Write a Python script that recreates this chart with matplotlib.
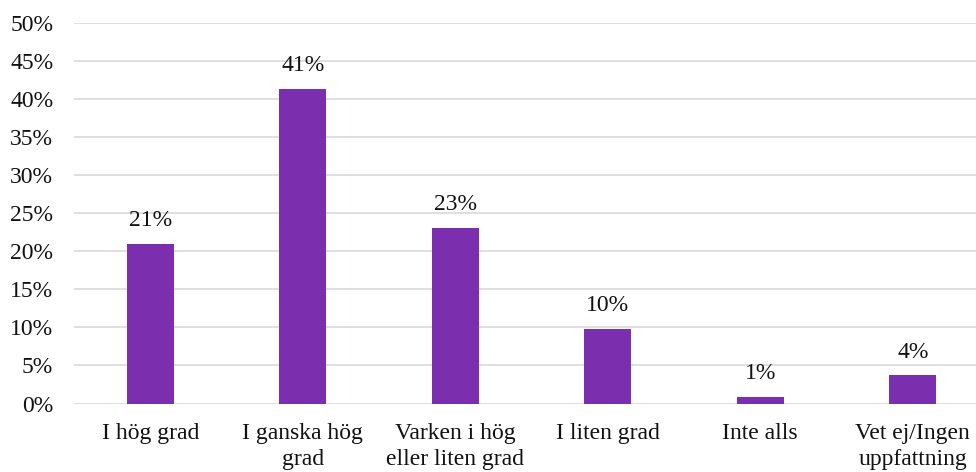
import matplotlib
matplotlib.use("Agg")
import matplotlib.pyplot as plt
from matplotlib.ticker import FuncFormatter

categories = ["I hög grad", "I ganska hög\ngrad", "Varken i hög\neller liten grad",
              "I liten grad", "Inte alls", "Vet ej/Ingen\nuppfattning"]
values = [21.0, 41.3, 23.1, 9.8, 0.9, 3.7]
labels = ["21%", "41%", "23%", "10%", "1%", "4%"]
yticks = list(range(0, 55, 5))

plt.rcParams["font.family"] = ["Liberation Serif", "DejaVu Serif"]

fig = plt.figure(figsize=(9.76, 4.72), dpi=100)
ax = fig.add_axes([74 / 976, 1 - 403.5 / 472, 915 / 976, (403.5 - 22.7) / 472])

x = list(range(len(categories)))
bars = ax.bar(x, values, width=0.31, color="#7B2FAE", zorder=3)

for b, lab in zip(bars, labels):
    ax.annotate(lab, xy=(b.get_x() + b.get_width() / 2, b.get_height()),
                xytext=(0, 9), textcoords="offset points",
                ha="center", va="bottom", fontsize=17, color="#111111")

ax.set_xlim(-0.5, len(categories) - 0.5)
ax.set_ylim(0, 50)
ax.set_yticks(yticks)
ax.yaxis.set_major_formatter(FuncFormatter(lambda v, p: f"{int(v)}%"))
ax.set_xticks(x)
ax.set_xticklabels(categories, linespacing=1.3)

ax.grid(axis="y", color="#D9D9D9", linewidth=1.2, zorder=0)
for s in ax.spines.values():
    s.set_visible(False)
ax.tick_params(axis="both", length=0, labelsize=17, colors="#111111")
ax.tick_params(axis="y", pad=15)
ax.tick_params(axis="x", pad=14)

fig.savefig("out.png", dpi=100)
